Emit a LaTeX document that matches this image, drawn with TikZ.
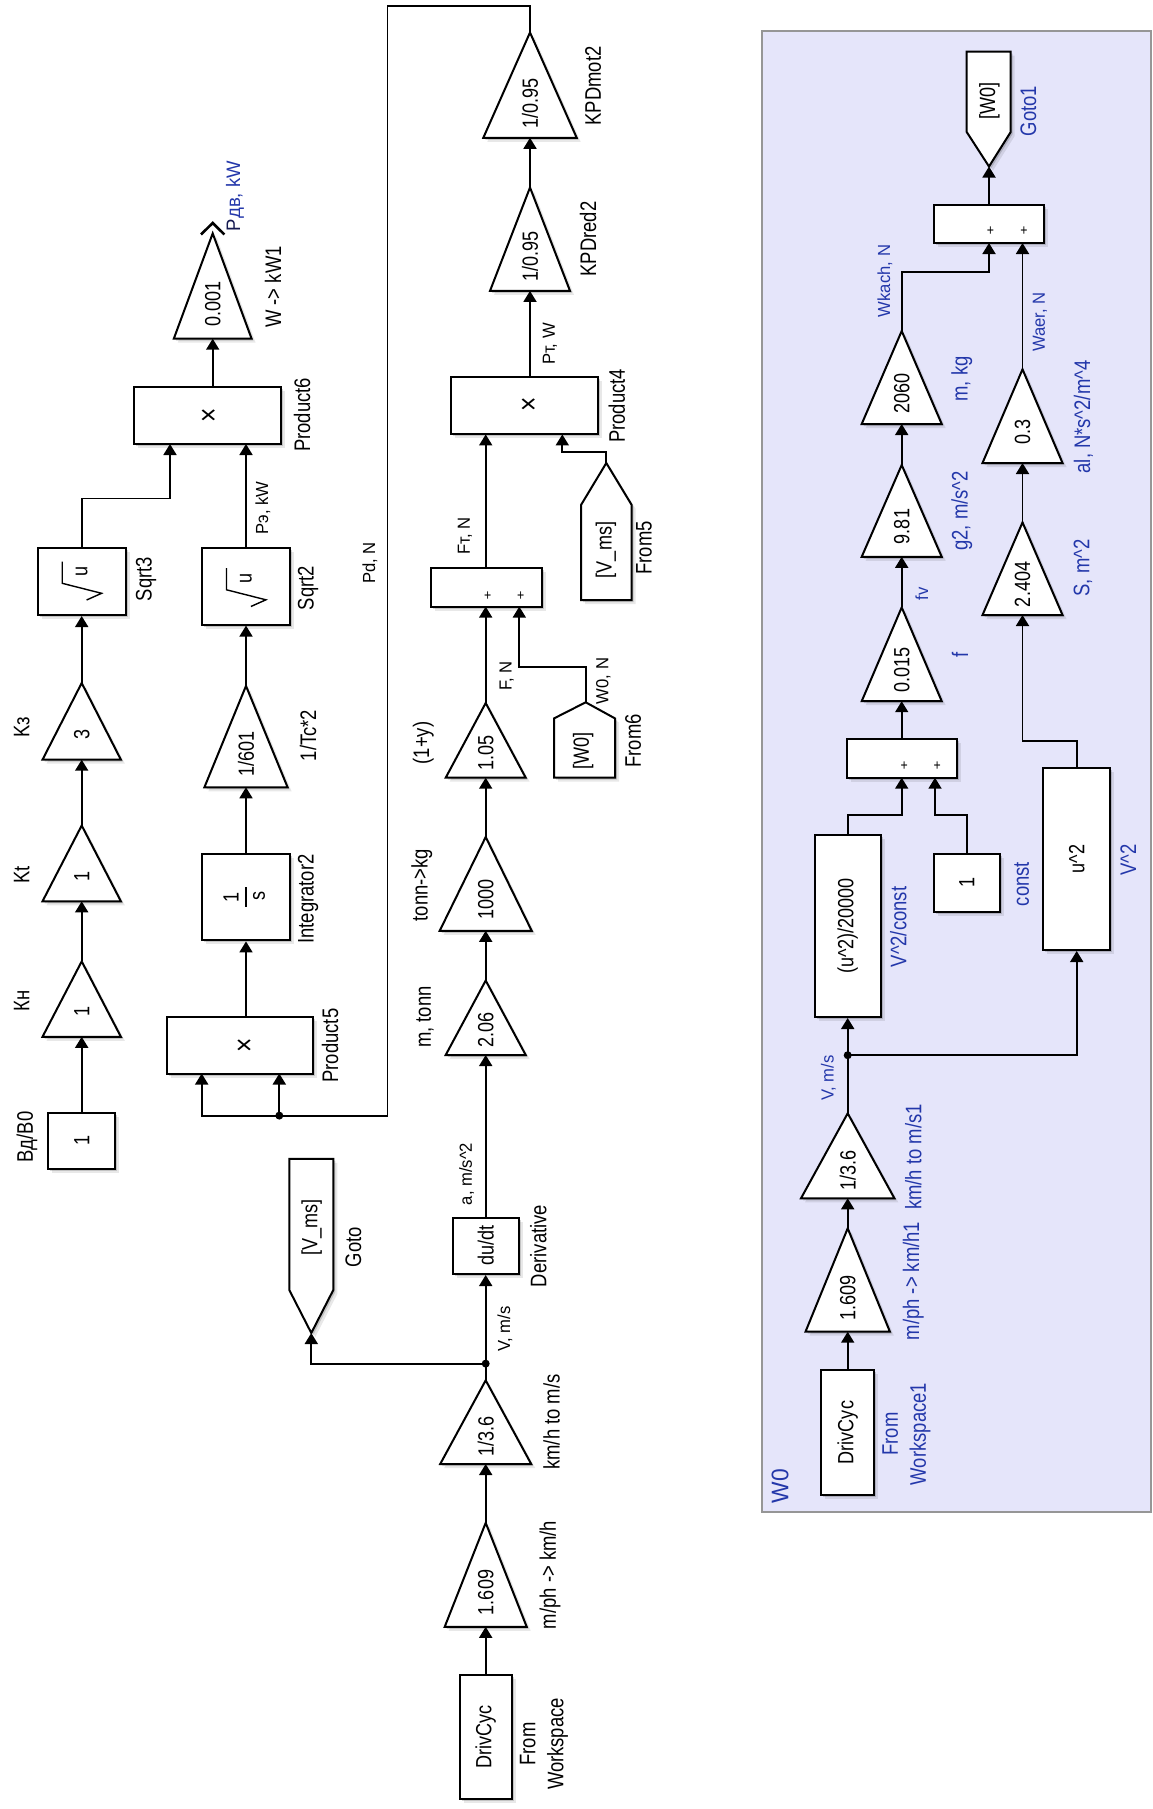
\documentclass[tikz,border=0pt]{standalone}
\usepackage{graphicx}
\usepackage{fontspec}
\setmainfont{Liberation Sans}[FakeStretch=0.82]
\newfontfamily\sigfont{Liberation Sans}[FakeStretch=0.95]
\usetikzlibrary{arrows.meta,shadows}
\definecolor{grpfill}{RGB}{229,229,250}
\definecolor{grpline}{RGB}{150,150,150}
\definecolor{lblue}{RGB}{35,55,170}
\definecolor{dnavy}{RGB}{20,25,80}
\tikzset{
  shd/.style={drop shadow={shadow xshift=2pt,shadow yshift=-2pt,opacity=.16,fill=black},
              drop shadow={shadow xshift=4pt,shadow yshift=-4pt,opacity=.09,fill=black}},
  blk/.style={draw, fill=white, line width=2pt, inner sep=0pt, shd, font=\fontsize{22}{26}\selectfont},
  shp/.style={draw, fill=white, line width=2pt, line join=miter, shd},
  val/.style={rotate=90, inner sep=0pt, font=\fontsize{22}{26}\selectfont},
  timesx/.style={rotate=90, inner sep=0pt, font=\fontsize{30}{32}\selectfont},
  lbl/.style={rotate=90, inner sep=0pt, align=center, font=\fontsize{22.5}{28}\selectfont},
  slbl/.style={rotate=90, inner sep=0pt, font=\sigfont\fontsize{17.5}{20}\selectfont},
  plus/.style={inner sep=0pt, font=\fontsize{15}{16}\selectfont},
  sig/.style={line width=1.8pt, -{Triangle[width=13pt,length=11pt]}},
  wire/.style={line width=1.8pt},
  jdot/.style={circle, fill=black, inner sep=0pt, minimum size=8pt},
  inw/.style={text=lblue}
}
% gain: name, cx, apex y, base y, half width, value
\newcommand\gainb[6]{%
  \path[shp] (#2,#3) -- ({#2+#5},#4) -- ({#2-#5},#4) -- cycle;
  \coordinate (#1-out) at (#2,#3);
  \coordinate (#1-in) at (#2,#4);
  \node[val] (#1) at (#2,{#3+0.67*(#4-#3)}) {#6};
}
% box: name, cx, cy, w, h, text
\newcommand\blkb[6]{%
  \node[blk, minimum width=#4pt, minimum height=#5pt] (#1) at (#2,#3) {\rotatebox{90}{#6}};
}
\newcommand\sqrtsym[3]{%
  \draw[line width=1.4pt] (#2-19.5,#3-19.8) -- (#2-19.5,#3+1.8) -- (#2+19.9,#3+11.8) -- (#2+4.9,#3+18.5);
  \node[val] (#1) at (#2,#3-10) {u};
}
\begin{document}
\begin{tikzpicture}[x=1pt,y=-1pt]
\useasboundingbox (0,0) rectangle (1152,1809);

% ---------------- group W0 -----------------
\node[draw=grpline, fill=grpfill, line width=2pt, minimum width=389.3pt, minimum height=1481.1pt, inner sep=0pt] (grp) at (956.35,771.15) {};
\node[lbl, inw, font=\sigfont\fontsize{24}{28}\selectfont] (grpname) at (780,1486) {W0};

% ---------------- main: chain 1 -----------------
\blkb{bd0}{81.7}{1140.7}{67.4}{56}{1}
\gainb{kn}{81.7}{961.4}{1036.8}{39.2}{1}
\gainb{kt}{81.7}{825.5}{901.3}{39.2}{1}
\gainb{kz}{81.7}{683}{759.7}{39.2}{3}
\blkb{sq3}{81.7}{581.5}{88.3}{67}{}
\sqrtsym{sq3u}{81.7}{581.5}

% chain 2
\blkb{pr5}{240}{1045.25}{146.6}{56.5}{}
\node[timesx] (pr5x) at (245.7,1045.6) {×};
\blkb{int2}{246}{897.3}{87.7}{86.2}{}
\node[val] (int1) at (231,897) {1};
\draw[line width=1.3pt] (246,887) -- (246,907);
\node[val] (ints) at (259,896) {s};
\gainb{gtc}{246}{685.9}{787.3}{41.6}{1/601}
\blkb{sq2}{246}{586.3}{88.3}{76.6}{}
\sqrtsym{sq2u}{246}{588}
\blkb{pr6}{207.5}{415.25}{147}{57.5}{}
\node[timesx] (pr6x) at (210,415) {×};
\gainb{gkw}{212.7}{233.4}{338.7}{38.9}{0.001}
\draw[line width=2.6pt] (201,234.5) -- (212.7,223) -- (224.4,234.5);

% chain 3
\blkb{drv}{485.7}{1736.8}{51.7}{123.6}{DrivCyc}
\gainb{gmph}{485.7}{1522.8}{1626.8}{41}{1.609}
\gainb{gms}{485.7}{1380.3}{1464}{45.5}{1/3.6}
\blkb{der}{485.7}{1245.8}{66}{56.4}{du/dt}
\path[shp] (289.3,1158.8) -- (333.3,1158.8) -- (333.3,1290) -- (311.3,1333) -- (289.3,1290) -- cycle;
\coordinate (gotoV-in) at (311.3,1333);
\node[val] (gotoVt) at (311.7,1227.7) {[V\_ms]};
\gainb{gm}{485.7}{980.5}{1055}{40}{2.06}
\gainb{gkg}{485.7}{837}{930.8}{46}{1000}
\gainb{gy}{485.7}{703}{777.7}{40}{1.05}
\path[shp] (554,777.7) -- (554,718.4) -- (585.7,702.3) -- (615,718.4) -- (615,777.7) -- cycle;
\coordinate (from6-out) at (585.7,702.3);
\node[val] (from6t) at (583.3,751) {[W0]};
\blkb{sum1}{486.35}{587.5}{110.7}{38.2}{}
\node[plus] (sum1p1) at (487.7,596) {+};
\node[plus] (sum1p2) at (520.7,596) {+};
\path[shp] (581,600) -- (581,505) -- (606.3,463) -- (631.7,505) -- (631.7,600) -- cycle;
\coordinate (from5-out) at (606.3,463);
\node[val] (from5t) at (606,550) {[V\_ms]};
\blkb{pr4}{524.65}{405.7}{147.3}{57.4}{}
\node[timesx] (pr4x) at (530,404) {×};
\gainb{gred}{530}{187.5}{290.9}{40}{1/0.95}
\gainb{gmot}{530}{32.5}{137.8}{46.7}{1/0.95}

% ports
\coordinate (pr6-in1) at (170,444);
\coordinate (pr6-in2) at (246,444);
\coordinate (pr6-out) at (212.7,386.5);
\coordinate (pr5-in1) at (201.7,1073.5);
\coordinate (pr5-in2) at (279.3,1073.5);
\coordinate (pr5-out) at (246,1017);
\coordinate (lp1) at (530,5.7);
\coordinate (lp2) at (387.5,5.7);
\coordinate (lp3) at (387.5,1115.6);
\coordinate (jd1) at (279.3,1115.6);
\coordinate (jv1) at (485.7,1363.6);
\coordinate (sum1-in1) at (485.7,606.6);
\coordinate (sum1-in2) at (519.3,606.6);
\coordinate (sum1-out) at (485.7,568.4);
\coordinate (pr4-in1) at (485.7,434.4);
\coordinate (pr4-in2) at (562.3,434.4);
\coordinate (pr4-out) at (530,377);

% connectors main
\draw[sig] (bd0.north) -- (kn-in);
\draw[sig] (kn-out) -- (kt-in);
\draw[sig] (kt-out) -- (kz-in);
\draw[sig] (kz-out) -- (sq3.south);
\draw[sig] (sq3.north) -- ++(0,-48.6) -| (pr6-in1);
\draw[sig] (sq2.north) -- (pr6-in2);
\draw[sig] (pr6-out) -- (gkw-in);
\draw[sig] (gmot-out) -- (lp1) -- (lp2) -- (lp3) -- (jd1) -| (pr5-in1);
\draw[sig] (jd1) -- (pr5-in2);
\node[jdot] (jd1dot) at (jd1) {};
\draw[sig] (pr5-out) -- (int2.south);
\draw[sig] (int2.north) -- (gtc-in);
\draw[sig] (gtc-out) -- (sq2.south);
\draw[sig] (drv.north) -- (gmph-in);
\draw[sig] (gmph-out) -- (gms-in);
\draw[wire] (gms-out) -- (jv1);
\draw[sig] (jv1) -- (der.south);
\draw[sig] (jv1) -| (gotoV-in);
\node[jdot] (jv1dot) at (jv1) {};
\draw[sig] (der.north) -- (gm-in);
\draw[sig] (gm-out) -- (gkg-in);
\draw[sig] (gkg-out) -- (gy-in);
\draw[sig] (gy-out) -- (sum1-in1);
\draw[sig] (from6-out) -- ++(0,-35.6) -| (sum1-in2);
\draw[sig] (sum1-out) -- (pr4-in1);
\draw[sig] (from5-out) -- ++(0,-11.4) -| (pr4-in2);
\draw[sig] (pr4-out) -- (gred-in);
\draw[sig] (gred-out) -- (gmot-in);

% labels main
\node[lbl] (l-bd0) at (27,1137) {Вд/В0};
\node[lbl] (l-kn) at (21.7,1000.8) {Кн};
\node[lbl] (l-kt) at (21.7,875) {Kt};
\node[lbl] (l-kz) at (21.7,727) {Kз};
\node[lbl] (l-sq3) at (146,579) {Sqrt3};
\node[lbl] (l-pr6) at (302,415) {Product6};
\node[lbl] (l-gkw) at (273,287) {W -> kW1};
\node[lbl] (l-pr5) at (330,1045.6) {Product5};
\node[lbl] (l-int2) at (308,899) {Integrator2};
\node[lbl] (l-gtc) at (308,735.6) {1/Tc*2};
\node[lbl] (l-sq2) at (308,588) {Sqrt2};
\node[lbl] (l-gmot) at (593,86) {KPDmot2};
\node[lbl] (l-gred) at (588,239) {KPDred2};
\node[lbl] (l-pr4) at (616.7,406) {Product4};
\node[lbl] (l-from5) at (644,548) {From5};
\node[lbl] (l-from6) at (633,741) {From6};
\node[lbl] (l-gy) at (423.3,743) {(1+y)};
\node[lbl] (l-gkg) at (421.7,885) {tonn->kg};
\node[lbl] (l-gm) at (425,1017) {m, tonn};
\node[lbl] (l-der) at (538.3,1246) {Derivative};
\node[lbl] (l-goto) at (353.3,1247) {Goto};
\node[lbl] (l-gms) at (551.7,1422) {km/h to m/s};
\node[lbl] (l-gmph) at (550,1575) {m/ph -> km/h};
\node[lbl] (l-drv) at (544,1744) {From\\Workspace};
% signal labels main
\node[slbl, font=\sigfont\fontsize{19.5}{22}\selectfont] (s-pdv) at (235,196) {\textcolor{dnavy}{Р}\textcolor{lblue}{дв, kW}};
\node[slbl] (s-pe) at (263,508) {Pэ, kW};
\node[slbl] (s-pd) at (370,563) {Pd, N};
\node[slbl] (s-pt) at (550,344) {Pт, W};
\node[slbl] (s-ft) at (465,536) {Fт, N};
\node[slbl] (s-f) at (506.7,676) {F, N};
\node[slbl] (s-w0) at (603.3,681) {W0, N};
\node[slbl] (s-a) at (466.7,1174) {a, m/s\textasciicircum 2};
\node[slbl] (s-v) at (505,1329) {V, m/s};

% ---------------- group contents -----------------
\blkb{drv1}{847.7}{1432.5}{53.3}{125}{DrivCyc}
\gainb{hmph}{847.7}{1228.3}{1331.7}{42.2}{1.609}
\gainb{hms}{847.7}{1113.3}{1198.3}{46.7}{1/3.6}
\blkb{v2c}{847.7}{926}{65.7}{182}{(u\textasciicircum 2)/20000}
\blkb{v2}{1076.7}{859}{66.7}{182}{u\textasciicircum 2}
\blkb{cst}{966.7}{882.95}{65.7}{57.5}{1}
\blkb{sum3}{901.7}{758.55}{110}{38.3}{}
\node[plus] (sum3p1) at (904.3,766) {+};
\node[plus] (sum3p2) at (937.3,766) {+};
\gainb{hf}{901.7}{607.4}{701.2}{40}{0.015}
\gainb{hg}{901.7}{465}{556.8}{40}{9.81}
\gainb{hm}{901.7}{331}{424}{40}{2060}
\gainb{hs}{1022.5}{522.4}{615}{40}{2.404}
\gainb{hal}{1022.5}{369.3}{463}{40}{0.3}
\blkb{sum2}{989}{223.85}{110.7}{38.3}{}
\node[plus] (sum2p1) at (990.5,231.5) {+};
\node[plus] (sum2p2) at (1024,231.5) {+};
\path[shp] (966.7,51.7) -- (1010.7,51.7) -- (1010.7,132) -- (989,166.5) -- (966.7,132) -- cycle;
\coordinate (goto1-in) at (989,166.5);
\node[val] (goto1t) at (989.5,101) {[W0]};

\coordinate (jv2) at (847.7,1055.2);
\coordinate (sum3-in1) at (901.7,777.7);
\coordinate (sum3-in2) at (935,777.7);
\coordinate (sum2-in1) at (989,243);
\coordinate (sum2-in2) at (1022.5,243);

\draw[sig] (drv1.north) -- (hmph-in);
\draw[sig] (hmph-out) -- (hms-in);
\draw[wire] (hms-out) -- (jv2);
\draw[sig] (jv2) -- (v2c.south);
\draw[sig] (jv2) -| (v2.south);
\node[jdot] (jv2dot) at (jv2) {};
\draw[sig] (v2c.north) -- ++(0,-19) -| (sum3-in1);
\draw[sig] (cst.north) -- ++(0,-38.2) -| (sum3-in2);
\draw[sig] (sum3.north) -- (hf-in);
\draw[sig] (hf-out) -- (hg-in);
\draw[sig] (hg-out) -- (hm-in);
\draw[sig] (hm-out) -- ++(0,-59.3) -| (sum2-in1);
\draw[sig] (v2.north) -- ++(0,-26) -| (hs-in);
\draw[sig] (hs-out) -- (hal-in);
\draw[sig] (hal-out) -- (sum2-in2);
\draw[sig] (sum2.north) -- (goto1-in);

\node[lbl, inw] (l-goto1) at (1028.3,111) {Goto1};
\node[lbl, inw] (l-hm) at (961.7,379) {m, kg};
\node[lbl, inw] (l-hg) at (961.7,511) {g2, m/s\textasciicircum 2};
\node[lbl, inw] (l-hal) at (1083.3,417) {al, N*s\textasciicircum 2/m\textasciicircum 4};
\node[lbl, inw] (l-hs) at (1083,568) {S, m\textasciicircum 2};
\node[lbl, inw] (l-hf) at (960,655) {f};
\node[lbl, inw] (l-v2c) at (898.3,927) {V\textasciicircum 2/const};
\node[lbl, inw] (l-cst) at (1021.7,884) {const};
\node[lbl, inw] (l-v2) at (1128.3,860) {V\textasciicircum 2};
\node[lbl, inw] (l-hms) at (913.3,1157) {km/h to m/s1};
\node[lbl, inw] (l-hmph) at (913.3,1281) {m/ph -> km/h1};
\node[lbl, inw] (l-drv1) at (906.5,1434) {From\\Workspace1};
\node[slbl, inw] (s-wk) at (885,281) {Wkach, N};
\node[slbl, inw] (s-wa) at (1040,322) {Waer, N};
\node[slbl, inw] (s-fv) at (921.7,594) {fv};
\node[slbl, inw] (s-v2) at (828.3,1078) {V, m/s};
\end{tikzpicture}
\end{document}
